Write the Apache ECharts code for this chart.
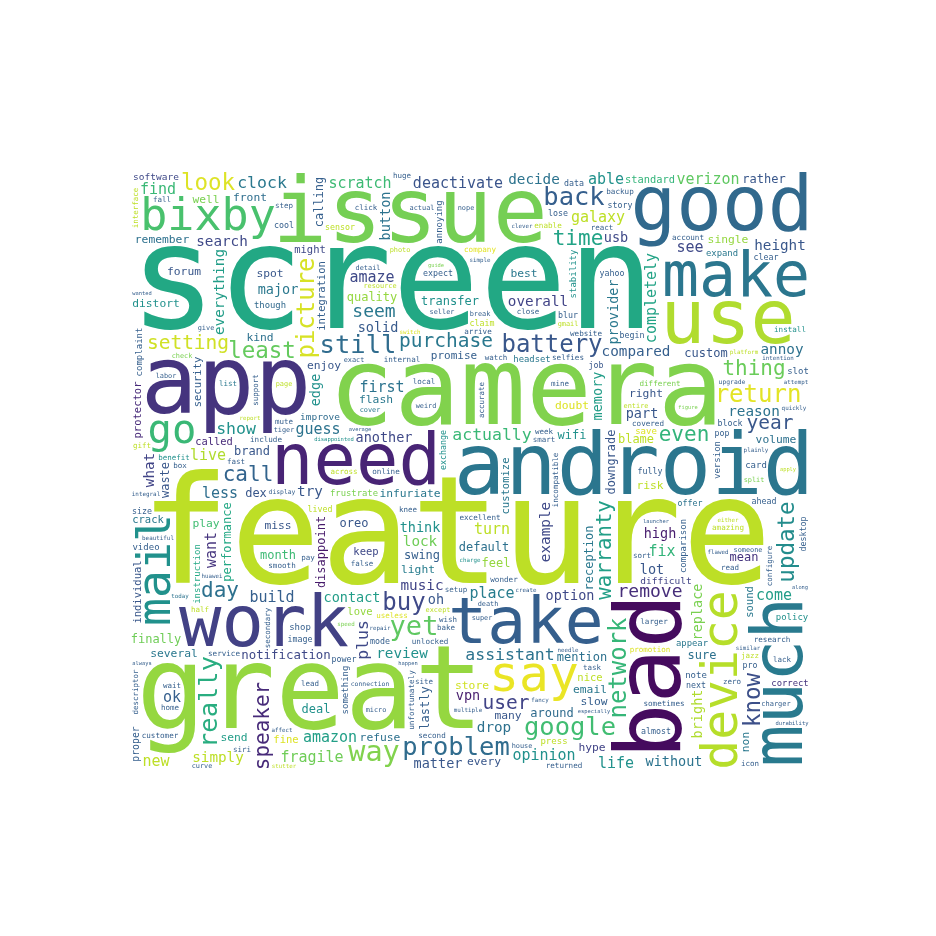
<!DOCTYPE html>
<html>
<head>
<meta charset="utf-8">
<script src="https://cdn.jsdelivr.net/npm/echarts@6/dist/echarts.min.js"></script>
<style>
  html, body { margin: 0; padding: 0; background: #fff; }
  #chart { width: 936px; height: 936px; }
</style>
</head>
<body>
<div id="chart"></div>
<script>
// words of the cloud and their weights (relative frequency)
const words = [
  'feature','screen','great','camera','app','bad','issue','android','good','use',
  'much','work','need','take','make','device','say','mail','bixby','go',
  'way','yet','still','really','google','back','problem','battery','network','return',
  'picture','buy','least','look','warranty','update','know','even','time','day',
  'thing','speaker','call','setting','user','year','purchase','remove','seem','plus',
  'actually','clock','assistant','show','life','deactivate','amaze','opinion','live','find',
  'place','completely','fragile','turn','verizon','build','guess','able','want','galaxy',
  'ok','less','see','come','first','new','fix','scratch','amazon','what',
  'search','music','annoy','drop','lock','overall','review','reason','decide','example',
  'everything','simply','try','height','memory','matter','notification','solid','option','think',
  'usb','lot','edge','vpn','high','major','contact','another','bright','replace',
  'part','without','provider','button','oh','performance','mention','oreo','downgrade','disappoint',
  'brand','transfer','mean','custom','reception','waste','calling','finally','wifi','around',
  'month','quality','sure','dex','rather','feel','default','deal','hype','light',
  'spot','email','right','front','several','single','infuriate','remember','forum','store',
  'flash','software','standard','distort','every','improve','best','volume','play','non',
  'enjoy','kind','send','miss','well','refuse','doubt','many','difficult','called',
  'might','love','though','nice','keep','integration','protector','security','fine','appear',
  'expand','frustrate','promotion','headset','individual','customize','correct','useless','crack','sound',
  'unlocked','policy','durability','card','annoying','comparison','slot','returned','disappointed','company',
  'shop','save','backup','research','website','something','version','stability','instruction','complaint',
  'press','video','arrive','different','enable','desktop','incompatible','unfortunately','exchange','selfies',
  'image','include','sensor','larger','expect','pro','fully','install','sometimes','display',
  'almost','wonder','clear','power','integral','data','size','internal','next','service',
  'covered','charger','platform','second','ahead','story','especially','excellent','cool','lived',
  'connection','customer','block','account','multiple','begin','lose','upgrade','quickly','smooth',
  'plainly','blur','online','pop','beautiful','configure','watch','except','knee','react',
  'false','smart','icon','benefit','setup','task','attempt','click','bake','across',
  'stutter','entire','resource','jazz','split','fall','super','seller','similar','launcher',
  'actual','local','report','siri','half','detail','lead','close','personal','february',
  'unrivaled','home','charge','computer','lack','mute','premium','calendar','important','backward',
  'disable','loyalty','needle','strangely','exposed','huawei','photo','site','support','enforce',
  'instance','simple','duplicate','attractive','huge','zero','average','house','read','labor',
  'wait','repair','condition','death','require','micro','hardware','complain','descriptor','gmail',
  'interface','tiger','mine','fancy','interact','break','create','page','honestly','either',
  'granted','wish','gift','blocked','flawed','upgraded','happen','fast','compared','slow',
  'risk','blame','promise','lastly','swing','note','amazing','proper','offer','switch',
  'today','list','job','function','someone','additional','always','cover','clever','along',
  'exact','chinese','apply','guide','speed','figure','step','sort','refurbish','nothing',
  'box','mode','separate','available','weird','yahoo','affect','week','claim','wanted',
  'secondary','check','nope','pay','intention','curve','accurate','give','entirely','acknowledge',
  'reflective','lean','fixed','regardless','fail','issued','sign','ever'
];
const weights = [
  100,97,77,73,63,61,61,57,55,50,
  47,47,47,43,41,36,33,31,30,27,
  19,18,17,17,17,17,17,16,16,16,
  16,16,15,15,15,15,15,14,14,14,
  14,14,14,13,13,13,13,12,12,11,
  11,11,11,11,10,10,10,10,10,10,
  10,10,10,10,10,10,10,10,10,10,
  10,10,10,10,10,10,10,10,10,9.5,
  9.5,9.5,9.5,9.5,9.5,9.5,9.5,9.5,9.5,9.5,
  9.5,9.5,9.5,9.5,9,9,9,9,9,9,
  9,9,9,9,9,9,9,9,9,9,
  9,9,9,9,9,8,8,8,8,8,
  8,8,8,8,8,8,8,8,8,8,
  8,8,8,8,8,8,8,8,7.5,7.5,
  7.5,7.5,7.5,7.5,7.5,7.5,7.5,7.5,7.5,7.5,
  7.5,7.5,7.5,7.5,7.5,7.5,7.5,7.5,7.5,7.5,
  7.5,7.5,7.5,7.5,7.5,7.5,7.5,7.5,7.5,7.5,
  7,7,7,7,7,7,7,7,7,7,
  7,7,7,7,7,7,7,7,7,7,
  6,6,6,6,6,6,6,6,6,6,
  6,6,6,6,6,6,6,6,6,6,
  6,6,6,5.5,5.5,5.5,5.5,5.5,5.5,5.5,
  5.5,5.5,5.5,5.5,5.5,5.5,5.5,5.5,5.5,5.5,
  5.5,5.5,5.5,5.5,5.5,5.5,5.5,5.5,5.5,5.5,
  5.5,5.5,5.5,5.5,5.5,5.5,5.5,5.5,5.5,5.5,
  5.5,5.5,5.5,5.5,5.5,5.5,5.5,5.5,5.5,5.5,
  5.5,5.5,5.5,5.5,5.5,5,5,5,5,5,
  5,5,5,5,5,5,5,5,5,5,
  5,5,5,5,5,5,5,5,5,5,
  5,5,5,5,5,5,5,5,5,5,
  5,5,5,5,5,5,5,5,5,5,
  5,5,5,5,5,5,5,5,5,5,
  5,5,5,5,5,5,5,5,5,5,
  5,5,5,5,5,5,5,5,5,5,
  5,5,5,5,5,5,5,5,5,5,
  5,5,5,5,5,5,5,5,9.5,7.5,
  7.5,8,8,8,8,6,6.5,6.5,5.5,5,
  5,5,5.5,5,5,5,5,5,5,5,
  5,5,5,5,5,5,5,5,5,5,
  5,5.5,5,5,5,5.5,5,5,5.5,5,
  5,5,5,5,5,5,5,5
];

// ---- style ----
// colour of each word as a position on the viridis scale
const wordTone = {
  feature:.9, screen:.6, great:.84, camera:.81, app:.15, bad:.03, issue:.79, android:.39, good:.34, use:.88,
  much:.41, work:.19, need:.1, take:.3, make:.39, device:.89, say:.97, mail:.5, bixby:.71, go:.67,
  way:.81, yet:.75, still:.35, really:.62, google:.69, back:.3, problem:.35, battery:.27, network:.66, return:.96,
  picture:.94, buy:.22, least:.76, look:.95, warranty:.56, update:.48, know:.24, even:.65, time:.58, day:.37,
  thing:.77, speaker:.12, call:.32, setting:.93, user:.2, year:.27, purchase:.4, remove:.13, seem:.4, plus:.22,
  actually:.67, clock:.4, assistant:.38, show:.5, life:.5, deactivate:.26, amaze:.22, opinion:.5, live:.88, find:.67,
  place:.42, completely:.58, fragile:.78, turn:.9, verizon:.75, build:.3, guess:.38, able:.5, want:.15, galaxy:.9,
  ok:.3, less:.36, see:.22, come:.55, first:.38, new:.9, fix:.65, scratch:.68, amazon:.56, what:.2,
  search:.22, music:.2, annoy:.37, drop:.37, lock:.78, overall:.2, review:.5, reason:.38, decide:.38, example:.22,
  everything:.55, simply:.9, try:.27, height:.27, memory:.55, matter:.27, notification:.22, solid:.28, option:.22, think:.5,
  usb:.22, lot:.27, edge:.5, vpn:.08, high:.08, major:.4, contact:.55, another:.22, bright:.88, replace:.8,
  part:.27, without:.38, provider:.4, button:.38, oh:.27, performance:.6, mention:.37, oreo:.27, downgrade:.27, disappoint:.07,
  brand:.27, transfer:.5, mean:.15, custom:.27, reception:.4, waste:.27, calling:.3, finally:.78, wifi:.5, around:.35,
  month:.68, quality:.84, sure:.37, dex:.27, rather:.27, feel:.84, default:.37, deal:.5, hype:.2, light:.42,
  spot:.27, email:.4, right:.27, front:.36, several:.4, single:.84, infuriate:.4, remember:.37, forum:.27, store:.93,
  flash:.4, software:.22, standard:.65, distort:.5, every:.27, improve:.35, best:.4, volume:.37, play:.69, non:.4,
  enjoy:.27, kind:.37, send:.55, miss:.27, well:.8, refuse:.37, doubt:.95, many:.27, difficult:.2, called:.12,
  might:.22, love:.84, though:.34, nice:.9, keep:.22, integration:.3, protector:.12, security:.3, fine:.95, appear:.4,
  expand:.4, frustrate:.8, promotion:.95, headset:.4, individual:.27, customize:.4, correct:.15, useless:.95, crack:.4, sound:.4,
  company:.96, enable:.9, different:.8, save:.95, press:.9, sensor:.9, platform:.9, lived:.9, february:.5, install:.5,
  stability:.5, instruction:.6, exchange:.5, disappointed:.5, policy:.5, important:.9, disable:.9, strangely:.9, photo:.9, hardware:.9,
  gmail:.9, interface:.9, page:.9, either:.9, gift:.9, risk:.9, blame:.9, amazing:.9, except:.9, across:.9,
  stutter:.9, entire:.9, resource:.9, jazz:.9, split:.8, report:.9, half:.9, benefit:.5, unrivaled:.5, charge:.5,
  offer:.38, switch:.95, today:.38, list:.4, job:.27, function:.4, someone:.3, additional:.4, always:.3, cover:.4,
  guide:.8, speed:.8, figure:.8, apply:.9, chinese:.3, along:.3, exact:.3, clever:.3, claim:.9, check:.8
};
const verticalWords = [
  'bad','much','device','mail','really','network','picture','warranty','update','know',
  'speaker','plus','completely','want','what','example','everything','memory','edge','bright',
  'replace','provider','button','performance','downgrade','disappoint','reception','waste','calling','non',
  'integration','protector','security','individual','customize','sound','annoying','comparison','something','version',
  'stability','instruction','complaint','desktop','incompatible','unfortunately','exchange','configure','support','descriptor',
  'interface','lastly','proper','secondary','accurate','acknowledge','reflective','regardless'
];
const viridisStops = ['#440154','#482475','#414487','#355f8d','#2a788e','#21918c','#22a884','#44bf70','#7ad151','#bddf26','#fde725'];
const FONT = 'DejaVu Sans Mono';
const MAX_FONT = 150;           // px for the heaviest word
const W = 680, H = 600;         // layout box (page px)
const LEFT = 130, TOP = 170;

function viridis(t) {
  const n = viridisStops.length - 1;
  const f = Math.max(0, Math.min(1, t)) * n;
  const i = Math.min(n - 1, Math.floor(f)), u = f - i;
  const a = parseInt(viridisStops[i].slice(1), 16), b = parseInt(viridisStops[i + 1].slice(1), 16);
  const ch = s => Math.round(((a >> s) & 255) * (1 - u) + ((b >> s) & 255) * u);
  return `rgb(${ch(16)},${ch(8)},${ch(0)})`;
}

// ---- layout: occupancy bitmap + integral image, like the python wordcloud ----
// each word goes to a free box; which free box is picked follows a golden-ratio sequence
const G = 2;
const GW = Math.floor(W / G), GH = Math.floor(H / G);
const occ = new Uint8Array(GW * GH);
const integ = new Int32Array((GW + 1) * (GH + 1));

function rebuildIntegral() {
  const S = GW + 1;
  for (let y = 0; y < GH; y++) {
    let row = 0;
    for (let x = 0; x < GW; x++) {
      row += occ[y * GW + x];
      integ[(y + 1) * S + x + 1] = integ[y * S + x + 1] + row;
    }
  }
}

function findSpot(bw, bh, u) {
  const S = GW + 1;
  let hits = 0;
  for (let y = 0; y <= GH - bh; y++) {
    for (let x = 0; x <= GW - bw; x++) {
      if (integ[(y + bh) * S + x + bw] - integ[y * S + x + bw] - integ[(y + bh) * S + x] + integ[y * S + x] === 0) hits++;
    }
  }
  if (!hits) return null;
  let target = Math.floor(u * hits);
  for (let y = 0; y <= GH - bh; y++) {
    for (let x = 0; x <= GW - bw; x++) {
      if (integ[(y + bh) * S + x + bw] - integ[y * S + x + bw] - integ[(y + bh) * S + x] + integ[y * S + x] === 0) {
        if (target-- === 0) return [x, y];
      }
    }
  }
  return null;
}

const mcan = document.createElement('canvas');
const mctx = mcan.getContext('2d', { willReadFrequently: true });

function wordMask(text, fs, vert) {
  const font = `${fs}px "${FONT}"`;
  mctx.font = font;
  const tw = Math.ceil(mctx.measureText(text).width) + 4;
  const th = Math.ceil(fs * 1.3) + 4;
  const nx = Math.ceil((vert ? th : tw) / G / 2) * 2, ny = Math.ceil((vert ? tw : th) / G / 2) * 2;
  mcan.width = nx * G; mcan.height = ny * G;
  mctx.font = font;
  mctx.textAlign = 'center'; mctx.textBaseline = 'middle'; mctx.fillStyle = '#000';
  mctx.translate(mcan.width / 2, mcan.height / 2);
  if (vert) mctx.rotate(-Math.PI / 2);
  mctx.fillText(text, 0, 0);
  const img = mctx.getImageData(0, 0, mcan.width, mcan.height).data;
  const cells = new Uint8Array(nx * ny);
  for (let py = 0; py < mcan.height; py++) {
    for (let px = 0; px < mcan.width; px++) {
      if (img[(py * mcan.width + px) * 4 + 3] > 40) cells[((py / G) | 0) * nx + ((px / G) | 0)] = 1;
    }
  }
  const core = [];
  let minX = 1e9, maxX = -1e9, minY = 1e9, maxY = -1e9;
  for (let j = 0; j < ny; j++) {
    for (let i = 0; i < nx; i++) {
      if (!cells[j * nx + i]) continue;
      const dx = i - nx / 2, dy = j - ny / 2;
      core.push(dx, dy);
      minX = Math.min(minX, dx); maxX = Math.max(maxX, dx);
      minY = Math.min(minY, dy); maxY = Math.max(maxY, dy);
    }
  }
  return { core, minX, maxX, minY, maxY };
}

const GOLDEN = 0.6180339887498949;
const maxW = Math.max(...weights);
const vset = new Set(verticalWords);
const placed = [];
let order = 0;
words.map((w, i) => i)
  .sort((a, b) => weights[b] - weights[a])
  .forEach(i => {
    order++;
    const u = (order * GOLDEN) % 1;
    const vert = vset.has(words[i]) ? 1 : 0;
    let fs = MAX_FONT * weights[i] / maxW;
    while (fs >= 5) {
      const m = wordMask(words[i], fs, vert);
      if (m.core.length) {
        const bw = m.maxX - m.minX + 3, bh = m.maxY - m.minY + 3;   // ink box + 1 cell margin each side
        const spot = bw <= GW && bh <= GH ? findSpot(bw, bh, u) : null;
        if (spot) {
          const cx = spot[0] + 1 - m.minX, cy = spot[1] + 1 - m.minY;
          for (let k = 0; k < m.core.length; k += 2) occ[(cy + m.core[k + 1]) * GW + cx + m.core[k]] = 1;
          rebuildIntegral();
          placed.push([cx * G, cy * G, i, Math.round(fs * 10) / 10, vert]);
          return;
        }
      }
      fs *= 0.92;
    }
  });

// ---- chart ----
const chart = echarts.init(document.getElementById('chart'));
chart.setOption({
  animation: false,
  backgroundColor: '#fff',
  grid: { left: LEFT, top: TOP, width: W, height: H },
  xAxis: { type: 'value', min: 0, max: W, show: false },
  yAxis: { type: 'value', min: 0, max: H, inverse: true, show: false },
  series: [{
    type: 'custom',
    coordinateSystem: 'cartesian2d',
    clip: false,
    silent: true,
    data: placed,
    renderItem: (params, api) => {
      const word = words[api.value(2)];
      const p = api.coord([api.value(0), api.value(1)]);
      const tone = wordTone[word] !== undefined ? wordTone[word] : 0.3;
      return {
        type: 'text',
        x: p[0],
        y: p[1],
        rotation: api.value(4) ? Math.PI / 2 : 0,
        style: {
          text: word,
          fontSize: api.value(3),
          fontFamily: FONT,
          fill: viridis(tone),
          align: 'center',
          verticalAlign: 'middle'
        }
      };
    }
  }]
});
</script>
</body>
</html>
